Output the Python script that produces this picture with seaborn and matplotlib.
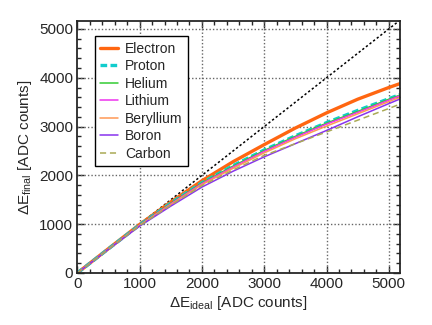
import numpy as np
import pandas as pd
import matplotlib
matplotlib.use("Agg")
import matplotlib.pyplot as plt
import seaborn as sns
from matplotlib.ticker import MultipleLocator

# ideal energy deposit (x) and final response (y) per particle
e_ideal = [0, 500, 1000, 1500, 2000, 2500, 3000, 3500, 4000, 4500, 5000, 5180]
electron = [0, 500, 995, 1455, 1890, 2280, 2630, 2970, 3280, 3560, 3800, 3880]
proton = [0, 495, 985, 1430, 1850, 2200, 2520, 2810, 3080, 3330, 3570, 3655]
helium = [0, 495, 985, 1425, 1845, 2190, 2510, 2800, 3070, 3310, 3560, 3645]
lithium = [0, 493, 980, 1415, 1830, 2170, 2490, 2780, 3050, 3290, 3540, 3630]
beryllium = [0, 490, 975, 1400, 1810, 2145, 2460, 2750, 3010, 3260, 3510, 3600]
boron = [0, 485, 960, 1370, 1760, 2085, 2380, 2650, 2920, 3200, 3470, 3565]
carbon = [0, 488, 970, 1390, 1790, 2110, 2410, 2650, 2890, 3130, 3370, 3460]
diag = [0, 5200]
grid_vals = [1000, 2000, 3000, 4000, 5000]

names = ["Electron", "Proton", "Helium", "Lithium", "Beryllium", "Boron", "Carbon"]
series = [electron, proton, helium, lithium, beryllium, boron, carbon]
colors = ["#ff6611", "#11cccc", "#33cc33", "#ee33ee", "#ff9955", "#8833ee", "#aaaa55"]
styles = ["-", (0, (2, 1)), "-", "-", "-", "-", (0, (4, 2.5))]
widths = [2.4, 2.4, 1.1, 1.1, 1.1, 1.1, 1.1]

sns.set_style("ticks")
plt.rcParams["font.family"] = ["Liberation Sans", "DejaVu Sans"]
plt.rcParams["mathtext.default"] = "regular"

fig = plt.figure(figsize=(4.32, 3.25), dpi=100)
ax = fig.add_axes([0.179, 0.16, 0.747, 0.775])

# dotted grid at major ticks
for v in grid_vals:
    ax.axvline(v, color="#666666", linestyle=(0, (1, 1.5)), lw=1.0, zorder=1)
    ax.axhline(v, color="#666666", linestyle=(0, (1, 1.5)), lw=1.0, zorder=1)

sns.lineplot(x=diag, y=diag, ax=ax, color="black", lw=1.1,
             linestyle=(0, (1.5, 1.5)), legend=False)

for name, ys, c, ls, w in zip(names, series, colors, styles, widths):
    sns.lineplot(x=e_ideal, y=ys, ax=ax, color=c, lw=w, linestyle=ls, label=name)

ax.set_xlim(0, 5180)
ax.set_ylim(0, 5160)
ax.xaxis.set_major_locator(MultipleLocator(1000))
ax.yaxis.set_major_locator(MultipleLocator(1000))
ax.xaxis.set_minor_locator(MultipleLocator(200))
ax.yaxis.set_minor_locator(MultipleLocator(200))
ax.tick_params(which="both", direction="in", top=True, right=True, labelsize=11, width=1.0)
ax.tick_params(which="major", length=5, pad=3)
ax.tick_params(which="minor", length=3)
for sp in ax.spines.values():
    sp.set_linewidth(1.3)

ax.set_xlabel(r"ΔE$_{ideal}$ [ADC counts]", fontsize=11, labelpad=2)
ax.set_ylabel(r"ΔE$_{final}$ [ADC counts]", fontsize=11, labelpad=4)

leg = ax.legend(loc="upper left", bbox_to_anchor=(0.054, 0.94), borderaxespad=0,
                fontsize=10, frameon=True, fancybox=False, handlelength=1.3,
                handletextpad=0.5, labelspacing=0.25, borderpad=0.4)
leg.get_frame().set_edgecolor("black")
leg.get_frame().set_linewidth(1.0)
leg.get_frame().set_alpha(1)

fig.savefig("out.png", dpi=100)
